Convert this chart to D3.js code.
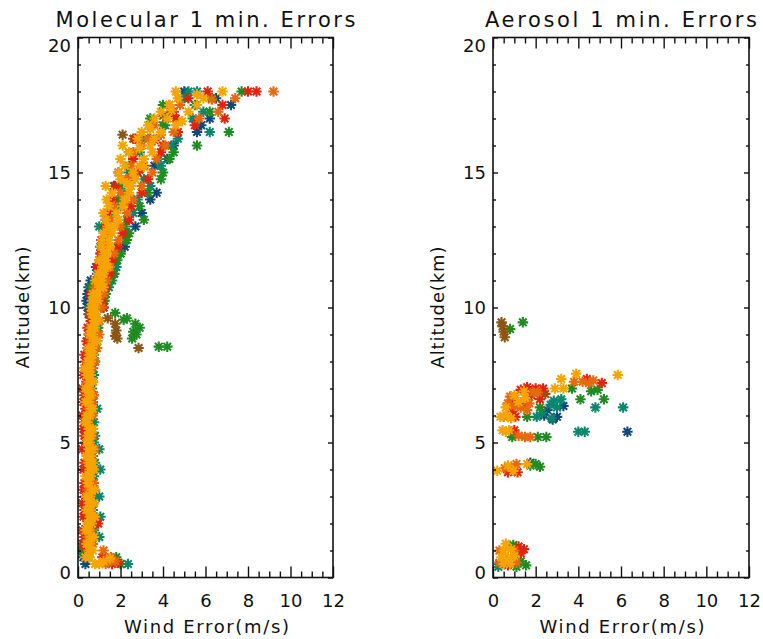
<!DOCTYPE html>
<html><head><meta charset="utf-8">
<script src="https://cdn.jsdelivr.net/npm/d3@7"></script>
<style>
body{margin:0;background:#fff}
svg{display:block}
text{font-family:"DejaVu Sans",sans-serif;fill:#111}
</style>
</head><body>
<svg id="chart" width="763" height="639"></svg>
<script>
// ---------------- DATA ----------------
const titles = ["Molecular 1 min. Errors", "Aerosol 1 min. Errors"];
const xLabel = "Wind Error(m/s)";
const yLabel = "Altitude(km)";
const xTicks = [0, 2, 4, 6, 8, 10, 12];
const yTicks = [0, 5, 10, 15, 20];

const seriesNames = ["navy", "teal", "green", "brown", "red", "darkorange", "amber", "orange"];
const seriesColors = ["#12477c", "#08866e", "#1f8c22", "#8c5512", "#e0230d", "#e8690d", "#f4a300", "#f5a400"];

// molecular: altitude bins (km) and per-profile error (m/s)
const molAlt = [0.5,0.75,1,1.25,1.5,1.75,2,2.25,2.5,2.75, 3,3.25,3.5,3.75,4,4.25,4.5,4.75,5,5.25,
  5.5,5.75,6,6.25,6.5,6.75,7,7.25,7.5,7.75, 8,8.25,8.5,8.75,9,9.25,9.5,9.75,10,10.25,
  10.5,10.75,11,11.25,11.5,11.75,12,12.25,12.5,12.75, 13,13.25,13.5,13.75,14,14.25,14.5,14.75,15,15.25,
  15.5,15.75,16,16.25,16.5,16.75,17,17.25,17.5,17.75,18];

const molNavy = [0.35,0.25,0.15,0.5,0.6,0.4,0.65,0.55,0.6,0.5,
  0.7,0.45,0.55,0.6,0.5,0.45,0.65,0.5,0.6,0.4,
  0.55,0.6,0.45,0.5,0.6,0.5,0.45,0.55,0.5,0.4,
  0.45,0.6,0.5,0.7,0.55,0.6,0.8,0.5,0.45,0.4,
  0.45,0.5,0.6,0.9,0.85,1.0,1.1,2.2,1.2,1.3,
  2.7,1.3,3.0,1.6,3.4,3.7,1.7,2.5,1.9,3.6,
  4.2,2.4,4.5,3.4,5.6,5.8,6.2,4.4,7.2,6.5,5.0];
const molTeal = [2.35,0.5,0.2,0.7,1.0,0.75,0.8,1.05,0.7,0.75,
  1.0,0.8,0.7,0.75,1.05,0.8,0.7,1.0,0.75,0.8,
  0.7,0.75,0.65,0.9,0.7,0.75,0.65,0.7,0.75,0.7,
  0.8,0.75,0.85,0.9,0.8,0.95,1.0,0.6,1.1,1.2,
  1.3,1.45,1.6,1.7,1.8,1.75,2.0,1.85,2.2,2.3,
  1.0,2.3,2.6,2.0,2.8,2.2,3.4,3.1,2.4,3.9,
  3.8,2.9,4.4,4.7,6.2,4.1,5.4,5.9,5.5,5.0,5.6];
const molGreen = [2.0,1.8,0.1,0.2,0.6,0.65,0.5,0.6,0.55,0.7,
  0.6,0.65,0.5,0.6,0.55,0.7,0.5,0.6,0.55,0.65,
  0.5,0.6,0.55,0.5,0.6,0.55,0.5,0.6,0.5,0.55,
  0.6,0.7,0.65,0.8,0.75,0.9,1.0,0.55,1.2,1.25,
  1.3,0.6,1.5,1.7,1.0,1.85,2.0,1.05,2.3,2.4,
  2.2,3.1,1.6,2.9,1.9,3.3,2.0,3.9,4.0,2.4,
  4.3,4.5,5.6,3.0,7.1,4.0,3.4,6.2,4.0,6.3,7.7];
const molRed = [1.6,1.15,0.45,0.25,0.3,0.2,0.95,0.25,0.3,0.2,
  0.35,0.25,0.3,0.45,0.25,0.3,0.5,0.2,0.35,0.3,
  0.25,0.3,0.2,0.35,0.25,0.3,0.2,0.4,0.25,0.3,
  0.35,0.3,0.45,0.4,0.5,0.45,0.6,0.55,1.2,1.1,
  0.6,1.3,0.85,1.5,0.9,1.6,1.05,1.9,1.1,2.1,
  1.3,2.4,1.4,2.5,1.6,3.0,1.75,3.3,2.8,3.1,
  2.6,3.9,4.0,2.7,4.7,5.5,6.9,4.5,6.8,5.2,8.4];
const molDarkOrange = [1.3,1.55,1.2,0.7,0.45,0.65,0.5,0.75,0.45,0.7,
  0.6,0.45,0.75,0.5,0.7,0.45,0.65,0.8,0.5,0.7,
  0.65,0.4,0.7,0.5,0.65,0.75,0.45,0.7,0.5,0.65,
  0.8,0.5,0.9,0.6,1.0,0.65,1.0,0.7,1.1,0.75,
  1.2,0.8,1.35,1.0,1.5,1.1,1.7,1.25,1.9,1.4,
  2.0,1.55,2.3,1.7,2.6,2.0,3.0,2.3,3.5,2.5,
  3.7,2.6,4.1,3.3,4.5,3.6,5.7,6.6,4.3,7.4,9.2];
const molAmber = [1.0,0.35,0.7,0.4,0.75,0.35,0.45,0.8,0.4,0.75,
  0.4,0.8,0.45,0.35,0.75,0.5,0.4,0.7,0.4,0.45,
  0.7,0.35,0.4,0.7,0.35,0.6,0.35,0.7,0.4,0.3,
  0.45,0.55,0.5,0.9,0.55,0.6,0.95,0.65,0.6,0.65,
  0.7,1.2,0.8,0.95,1.4,1.0,1.2,1.1,1.15,1.2,
  1.4,1.3,1.2,1.45,1.35,1.6,1.3,2.0,1.9,2.2,
  2.0,2.4,2.1,2.8,3.0,3.3,3.6,3.9,4.3,4.7,4.6];
const molOrange = [0.8,0.55,0.5,0.55,0.6,0.5,0.65,0.55,0.6,0.5,
  0.55,0.65,0.5,0.6,0.55,0.7,0.6,0.5,0.55,0.6,
  0.5,0.45,0.55,0.6,0.5,0.45,0.55,0.5,0.6,0.55,
  0.6,0.7,0.65,0.75,0.7,0.8,0.75,0.85,0.8,0.95,
  0.9,1.0,1.1,1.2,1.15,1.3,1.35,1.5,1.45,1.6,
  1.7,1.9,1.8,2.1,2.2,2.4,2.5,2.7,2.6,2.9,
  3.1,3.5,3.4,3.6,3.9,4.6,4.2,5.2,5.6,5.9,6.8];

// molecular extra points [error, altitude]
const molTealPts = [[5.2,18.0]];
const molGreenPts = [[1.75,9.8],[2.3,9.6],[2.15,9.55],[2.7,9.4],[2.9,9.25],[2.6,9.1],[2.75,9.0],[2.55,8.85],[3.8,8.55],[4.2,8.55]];
const molBrownPts = [[1.4,9.6],[1.75,9.4],[1.8,9.15],[1.85,8.85],[1.75,8.95],[2.85,8.5],[2.6,16.25],[4.0,17.1],[2.1,16.4]];
const molRedPts = [[8.0,18.0],[6.1,18.0],[1.9,0.55],[3.6,16.2],[4.6,17.0],[2.9,15.1]];
const molDarkOrangePts = [[4.8,17.5],[3.0,16.0],[2.2,13.9],[6.3,17.7],[1.75,0.6],[1.4,0.55],[3.9,16.4],[2.6,14.9]];
const molOrangePts = [[3.4,16.6],[4.4,17.3],[5.6,17.9],[2.9,15.9],[3.1,15.2],[2.3,14.6],[4.9,16.9],[1.2,0.6],[1.5,0.7]];

// aerosol points [error, altitude]
const aerNavyPts = [[0.3,0.5],[1.75,4.25],[6.3,5.4],[2.4,6.0],[2.8,5.85],[3.0,5.95],[3.3,6.35],[2.55,6.2]];
const aerTealPts = [[0.25,0.4],[4.0,5.4],[4.3,5.4],[2.05,5.95],[2.75,5.9],[3.0,6.3],[2.7,6.4],[2.85,6.55],[3.2,6.6],[4.8,6.3],[6.1,6.3],[2.3,6.1]];
const aerGreenPts = [[1.3,0.6],[1.55,0.45],[1.1,0.4],[0.95,1.2],[1.75,4.15],[2.0,4.2],[2.2,4.1],
  [0.9,5.2],[2.1,5.2],[2.5,5.2],[1.6,5.95],[2.2,6.3],[4.1,6.6],[5.2,6.6],[3.7,7.0],[4.6,6.9],[4.9,6.95],
  [0.8,9.2],[1.4,9.45]];
const aerBrownPts = [[0.4,9.45],[0.5,9.1],[0.55,8.9],[0.45,9.3],[2.45,6.8]];
const aerRedPts = [[1.2,1.15],[1.45,1.05],[1.3,0.9],[0.7,0.45],[1.15,3.9],[0.7,3.9],
  [1.0,5.45],[1.05,5.95],[1.0,6.55],[1.6,7.05],[2.0,7.0],[2.35,7.0],[1.3,6.95],[0.9,6.15],[5.1,7.2],[4.4,7.35],
  [1.8,6.75],[2.2,6.6],[1.4,6.4]];
const aerDarkOrangePts = [[0.3,0.55],[1.1,0.55],[0.3,1.0],[1.0,1.0],[0.55,4.05],[0.85,4.1],[1.1,4.2],
  [1.2,5.25],[1.5,5.2],[1.75,5.2],[0.5,5.95],[1.0,6.35],[1.3,6.3],[1.7,6.45],[0.8,6.7],[1.9,6.85],
  [3.8,7.25],[4.2,7.25],[4.5,7.2],[4.7,7.3],[0.7,6.45],[1.6,6.2],[2.1,6.85]];
const aerOrangePts = [[0.5,0.5],[0.8,0.5],[0.4,0.75],[0.7,0.75],[1.0,0.8],[0.5,1.0],[0.85,1.05],[0.6,1.25],
  [0.2,3.95],[0.7,4.15],[0.95,3.95],[1.6,4.2],[0.45,5.45],[0.75,5.45],[0.6,5.4],
  [0.35,5.95],[0.65,6.0],[0.85,5.9],[1.5,6.65],[1.2,6.5],[1.45,6.9],
  [2.9,7.0],[3.3,7.0],[3.2,7.35],[3.9,7.55],[5.85,7.5],[1.0,6.75],[0.6,6.3]];

// ---------------- BUILD ----------------
const zip = (alt, vals) => vals.map((v, i) => [v, alt[i]]).filter(d => d[0] != null);
const molSeries = {
  navy: zip(molAlt, molNavy),
  teal: zip(molAlt, molTeal).concat(molTealPts),
  green: zip(molAlt, molGreen).concat(molGreenPts),
  brown: molBrownPts,
  red: zip(molAlt, molRed).concat(molRedPts),
  darkorange: zip(molAlt, molDarkOrange).concat(molDarkOrangePts),
  amber: zip(molAlt, molAmber),
  orange: zip(molAlt, molOrange).concat(molOrangePts)
};
const aerSeries = {
  navy: aerNavyPts, teal: aerTealPts, green: aerGreenPts, brown: aerBrownPts,
  red: aerRedPts, darkorange: aerDarkOrangePts, amber: [], orange: aerOrangePts
};

const svg = d3.select("#chart");
const plotTop = 37.5, plotBottom = 577.5;
const panels = [
  {left: 78, right: 333, title: titles[0], titleW: 300, series: molSeries},
  {left: 493, right: 749, title: titles[1], titleW: 272, series: aerSeries}
];

const asterisk = {
  draw(ctx, size) {
    const r = Math.sqrt(size) / 2, d = r * 0.72;
    ctx.moveTo(-r, 0); ctx.lineTo(r, 0);
    ctx.moveTo(0, -r); ctx.lineTo(0, r);
    ctx.moveTo(-d, -d); ctx.lineTo(d, d);
    ctx.moveTo(-d, d); ctx.lineTo(d, -d);
  }
};
const sym = d3.symbol(asterisk, 110)();

const xMinor = d3.range(0, 12.001, 0.5).filter(v => v % 2 !== 0);
const yMinor = d3.range(0, 20.001, 1).filter(v => v % 5 !== 0);

panels.forEach((p, pi) => {
  const x = d3.scaleLinear().domain([0, 12]).range([p.left, p.right]);
  const y = d3.scaleLinear().domain([0, 20]).range([plotBottom, plotTop]);
  const g = svg.append("g");

  const clipId = "clip" + pi;
  svg.append("clipPath").attr("id", clipId).append("rect")
    .attr("x", p.left).attr("y", plotTop).attr("width", p.right - p.left).attr("height", plotBottom - plotTop);

  // points
  const pg = g.append("g").attr("clip-path", `url(#${clipId})`);
  seriesNames.forEach((name, si) => {
    pg.append("g").selectAll("path").data(p.series[name]).join("path")
      .attr("d", sym)
      .attr("transform", d => `translate(${x(d[0])},${y(d[1])})`)
      .attr("fill", "none")
      .attr("stroke", seriesColors[si])
      .attr("stroke-width", 2.1)
      .attr("stroke-linecap", "butt");
  });

  const styleAxis = sel => {
    sel.select(".domain").remove();
    sel.selectAll(".tick line").attr("stroke", "#111").attr("stroke-width", 1.4);
  };

  // bottom axis
  g.append("g").attr("transform", `translate(0,${plotBottom})`)
    .call(d3.axisBottom(x).tickValues(xTicks).tickSizeInner(-11).tickSizeOuter(0).tickPadding(17).tickFormat(d3.format("d")))
    .call(styleAxis)
    .call(s => s.selectAll("text").attr("font-size", 18).attr("font-family", "DejaVu Sans").attr("fill", "#111"));
  g.append("g").attr("transform", `translate(0,${plotBottom})`)
    .call(d3.axisBottom(x).tickValues(xMinor).tickSizeInner(-6).tickSizeOuter(0).tickFormat(""))
    .call(styleAxis);
  // top axis
  g.append("g").attr("transform", `translate(0,${plotTop})`)
    .call(d3.axisTop(x).tickValues(xTicks).tickSizeInner(-11).tickSizeOuter(0).tickFormat(""))
    .call(styleAxis);
  g.append("g").attr("transform", `translate(0,${plotTop})`)
    .call(d3.axisTop(x).tickValues(xMinor).tickSizeInner(-6).tickSizeOuter(0).tickFormat(""))
    .call(styleAxis);
  // left axis
  g.append("g").attr("transform", `translate(${p.left},0)`)
    .call(d3.axisLeft(y).tickValues(yTicks).tickSizeInner(-5).tickSizeOuter(0).tickPadding(7).tickFormat(d3.format("d")))
    .call(styleAxis)
    .call(s => s.selectAll("text").attr("font-size", 18).attr("font-family", "DejaVu Sans").attr("fill", "#111")
      .attr("dy", d => d === 20 ? "0.8em" : d === 0 ? "0.03em" : "0.36em"));
  g.append("g").attr("transform", `translate(${p.left},0)`)
    .call(d3.axisLeft(y).tickValues(yMinor).tickSizeInner(-3).tickSizeOuter(0).tickFormat(""))
    .call(styleAxis);
  // right axis
  g.append("g").attr("transform", `translate(${p.right},0)`)
    .call(d3.axisRight(y).tickValues(yTicks).tickSizeInner(-5).tickSizeOuter(0).tickFormat(""))
    .call(styleAxis);
  g.append("g").attr("transform", `translate(${p.right},0)`)
    .call(d3.axisRight(y).tickValues(yMinor).tickSizeInner(-3).tickSizeOuter(0).tickFormat(""))
    .call(styleAxis);

  // frame
  g.append("rect").attr("x", p.left).attr("y", plotTop)
    .attr("width", p.right - p.left).attr("height", plotBottom - plotTop)
    .attr("fill", "none").attr("stroke", "#111").attr("stroke-width", 1.6);

  const cx = (p.left + p.right) / 2;
  // title
  g.append("text").attr("x", cx).attr("y", 27).attr("text-anchor", "middle")
    .attr("font-size", 21).attr("textLength", p.titleW).attr("lengthAdjust", "spacing")
    .text(p.title);
  // x label
  g.append("text").attr("x", cx + 1).attr("y", 633).attr("text-anchor", "middle")
    .attr("font-size", 18).attr("textLength", 165).attr("lengthAdjust", "spacing")
    .text(xLabel);
  // y label
  g.append("text").attr("transform", `translate(${p.left - 49},${(plotTop + plotBottom) / 2}) rotate(-90)`)
    .attr("text-anchor", "middle").attr("font-size", 18)
    .attr("textLength", 122).attr("lengthAdjust", "spacing")
    .text(yLabel);
});
</script>
</body></html>
